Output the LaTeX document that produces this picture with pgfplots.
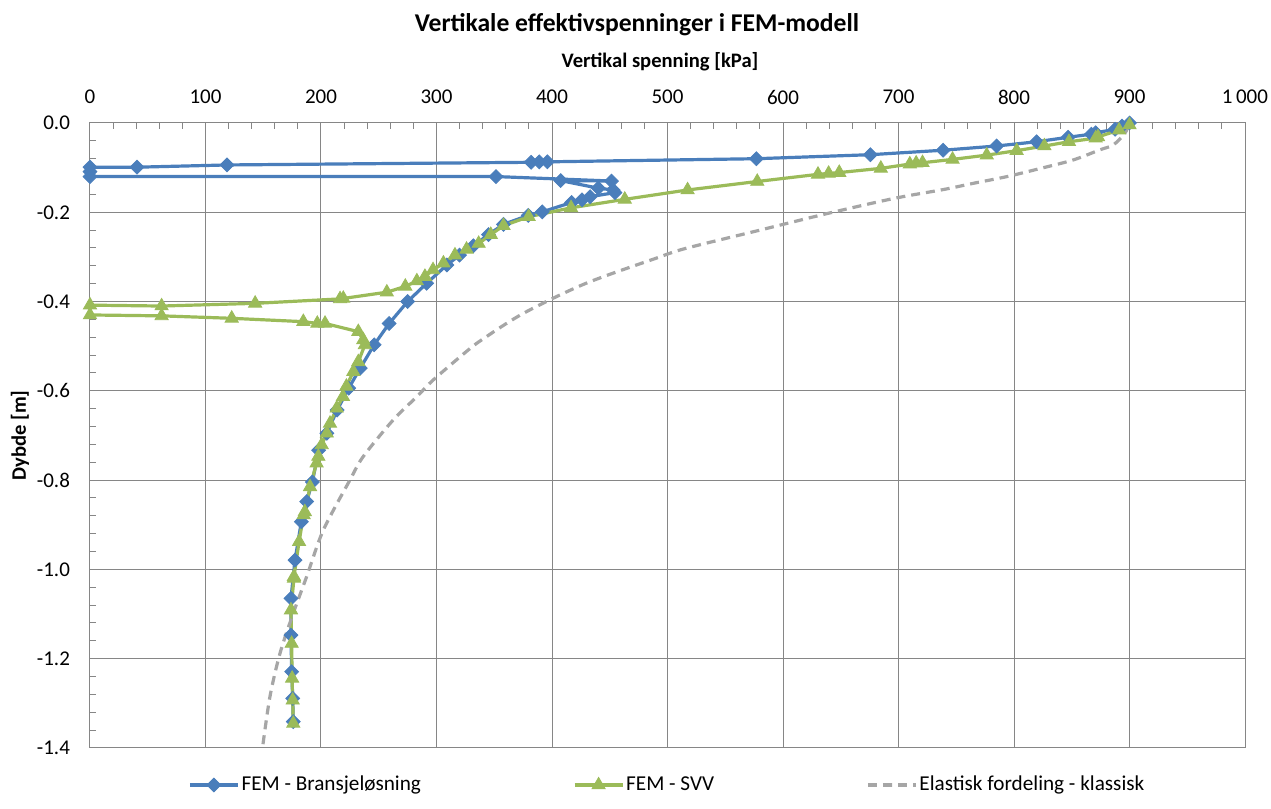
\documentclass[border=0pt]{standalone}
\usepackage{fontspec}
\setmainfont{Carlito}
\usepackage{pgfplots}
\pgfplotsset{compat=1.18}
\definecolor{fblue}{HTML}{4A7EBB}
\definecolor{fgreen}{HTML}{9BBB59}
\definecolor{fgray}{HTML}{A6A6A6}
\definecolor{gridc}{HTML}{868686}
\begin{document}
\begin{tikzpicture}
\useasboundingbox (-45pt,-30.5pt) rectangle (590.5pt,374pt);
\begin{axis}[
  at={(0,0)}, anchor=south west, scale only axis,
  width=577.5pt, height=312.5pt,
  xmin=0, xmax=1000, ymin=-1.4, ymax=0, clip=false,
  xtick={0,100,200,300,400,500,600,700,800,900,1000},
  xticklabels={0,100,200,300,400,500,600,700,800,900,1\,000},
  ytick={0,-0.2,-0.4,-0.6,-0.8,-1.0,-1.2,-1.4},
  yticklabels={0.0,-0.2,-0.4,-0.6,-0.8,-1.0,-1.2,-1.4},
  minor x tick num=4, minor y tick num=4,
  xtick pos=right, xticklabel pos=right, ytick pos=left,
  tick align=inside, major tick length=3pt, minor tick length=3pt,
  grid=major, major grid style={gridc, line width=0.5pt},
  axis line style={gridc, line width=0.5pt},
  every tick/.style={gridc, line width=0.5pt},
  ticklabel style={font=\fontsize{10.5}{12}\selectfont, text=black},
  xticklabel style={anchor=center, yshift=13pt},
  yticklabel style={anchor=east, xshift=-6.5pt},
  every axis title shift=0pt,
  title={Vertikale effektivspenninger i FEM-modell},
  title style={at={(axis description cs:0.4736,1.1568)}, anchor=center, font=\bfseries\fontsize{12.8}{14}\selectfont},
  xlabel={Vertikal spenning [kPa]},
  xlabel style={at={(axis description cs:0.4935,1.0985)}, anchor=center, font=\bfseries\fontsize{10.3}{12}\selectfont},
  ylabel={Dybde [m]},
  ylabel style={at={(axis description cs:-0.0606,0.5)}, anchor=center, font=\bfseries\fontsize{10.3}{12}\selectfont},
  legend columns=3,
  legend style={at={(axis description cs:0.0848,-0.0592)}, anchor=west, draw=none, fill=none,
    inner sep=0pt, font=\fontsize{10.6}{12}\selectfont,
    nodes={inner sep=1pt},
    /tikz/every even column/.append style={column sep=75pt}},
  legend image code/.code={\draw[mark repeat=2,mark phase=2,#1] plot coordinates {(0pt,0pt) (12pt,0pt) (24pt,0pt)};},
]
\addplot[fblue, line width=1.6pt, mark=square*, mark size=2.45pt, mark options={rotate=45, solid, fill=fblue, draw=fblue, line width=0.4pt}] coordinates {
(900,0) (893.5,-0.007) (887.5,-0.014) (870.7,-0.022) (867,-0.025) (846.8,-0.032) (819.6,-0.042) (785,-0.0515) (738.6,-0.061) (675.7,-0.071) (577,-0.080) (396,-0.087) (389,-0.087) (382,-0.088) (118.6,-0.094) (40.7,-0.099) (0,-0.099) (0,-0.109) (0,-0.120) (351.5,-0.120) (451.5,-0.130) (407.5,-0.129) (440,-0.146) (453,-0.150) (454.5,-0.156) (433,-0.165) (426,-0.172) (417,-0.178) (391.6,-0.199) (379.5,-0.207) (358,-0.227) (345,-0.250) (332,-0.275) (320,-0.296) (309,-0.318) (291.5,-0.359) (275,-0.400) (259,-0.449) (246,-0.497) (234,-0.549) (224,-0.594) (214,-0.643) (205,-0.695) (198,-0.733) (192.5,-0.804) (187.6,-0.848) (183,-0.893) (177.5,-0.979) (174,-1.065) (174,-1.147) (174.6,-1.229) (175.5,-1.289) (176,-1.341)
};
\addlegendentry{FEM - Bransjeløsning}
\addplot[fgreen, line width=1.6pt, mark=triangle*, mark size=3.8pt, mark options={solid, fill=fgreen, draw=fgreen, line width=0.4pt}] coordinates {
(900,-0.0045) (891,-0.016) (872.7,-0.031) (870.7,-0.034) (847.6,-0.042) (826.3,-0.0515) (802.3,-0.062) (776.4,-0.072) (746.8,-0.0815) (720.8,-0.089) (715.3,-0.090) (709.8,-0.092) (684.7,-0.1016) (648.7,-0.111) (639.5,-0.113) (630.3,-0.115) (577.7,-0.131) (517.4,-0.150) (463,-0.171) (416.5,-0.190) (379.8,-0.210) (358,-0.230) (347,-0.250) (336.5,-0.270) (326,-0.283) (316,-0.296) (306,-0.314) (297,-0.329) (290,-0.344) (283,-0.354) (273,-0.366) (257,-0.379) (219.3,-0.393) (216.5,-0.394) (143,-0.404) (62,-0.410) (0,-0.408) (0,-0.430) (62,-0.432) (122.7,-0.4375) (184.7,-0.445) (196.8,-0.449) (203.5,-0.449) (232.3,-0.4675) (236.6,-0.486) (238,-0.497) (232.3,-0.535) (228,-0.557) (222,-0.590) (219,-0.613) (213.6,-0.639) (207.8,-0.673) (205,-0.695) (200.6,-0.721) (197.7,-0.747) (196.2,-0.762) (190.5,-0.815) (186,-0.871) (185,-0.878) (181,-0.938) (176.6,-1.016) (176.6,-1.020) (174,-1.091) (174.6,-1.166) (175,-1.244) (175.5,-1.293) (176,-1.345)
};
\addlegendentry{FEM - SVV}
\addplot[fgray, line width=1.6pt, dash pattern=on 4.5pt off 3pt, smooth, no markers] coordinates {
(899,-0.005) (896,-0.023) (886,-0.049) (874.5,-0.060) (851,-0.083) (822.5,-0.102) (794,-0.120) (765,-0.135) (739,-0.149) (696,-0.169) (638,-0.203) (580,-0.240) (515.6,-0.281) (490,-0.303) (428.6,-0.360) (375.5,-0.426) (339,-0.486) (324,-0.516) (297,-0.576) (283,-0.613) (262.6,-0.665) (236.6,-0.747) (225,-0.800) (202,-0.912) (187.6,-1.016) (176,-1.098) (164.5,-1.188) (155.8,-1.285) (149.5,-1.397)
};
\addlegendentry{Elastisk fordeling - klassisk}
\end{axis}
\end{tikzpicture}
\end{document}
